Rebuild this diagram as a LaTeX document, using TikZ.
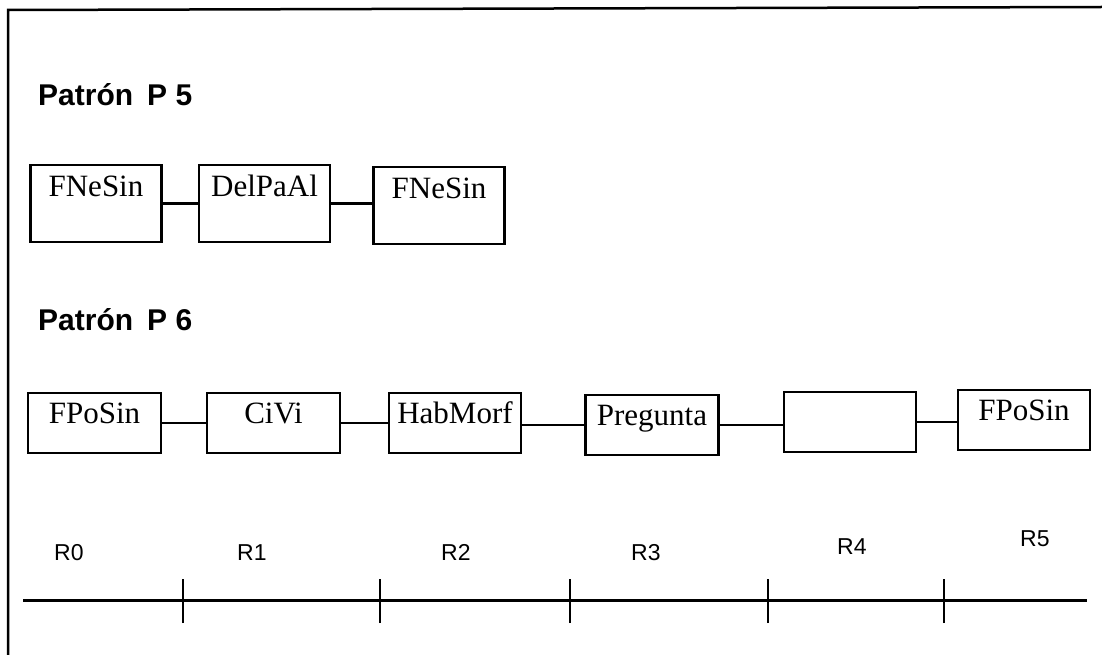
\documentclass[tikz,border=0pt]{standalone}
\usepackage{fontspec}
\setmainfont{Liberation Serif}
\setsansfont{Liberation Sans}
\begin{document}
\begin{tikzpicture}[x=1pt,y=-1pt,
  box/.style={draw, line width=2.1pt, inner sep=0pt, anchor=north,
    minimum width=131pt, font=\fontsize{31}{36}\selectfont},
  pfive/.style={text height=31pt, text depth=46pt},
  psix/.style={text height=30pt, text depth=30pt},
  link/.style={line width=2.2pt},
  ptitle/.style={anchor=base west, inner sep=0pt,
    font=\sffamily\bfseries\fontsize{30}{36}\selectfont},
  rlab/.style={anchor=base west, inner sep=0pt,
    font=\sffamily\fontsize{23}{28}\selectfont},
  ticky/.style={line width=2.6pt},
  axis/.style={line width=3pt},
  frame/.style={line width=2.5pt}
]
\useasboundingbox (0,0) rectangle (1102,655);
% frame
\draw[frame] (8,655) -- (8,10) -- (1102,7);

% Pattern P5
\node[ptitle] (t5) at (38,106) {Patrón\hspace{14pt}P 5};
\node[box,pfive] (a1) at (96,164) {FNeSin};
\node[box,pfive] (a2) at (264.5,164) {DelPaAl};
\node[box,pfive] (a3) at (439,166) {FNeSin};
\draw[link] (a1.east) -- (a1.east -| a2.west);
\draw[link] (a2.east) -- (a2.east -| a3.west);

% Pattern P6
\node[ptitle] (t6) at (38,330) {Patrón\hspace{14pt}P 6};
\node[box,psix,minimum width=133pt] (b1) at (94.5,392) {FPoSin};
\node[box,psix,minimum width=133pt] (b2) at (273.5,392) {CiVi};
\node[box,psix,minimum width=132pt] (b3) at (455,392) {HabMorf};
\node[box,psix,minimum width=133pt] (b4) at (652,394) {Pregunta};
\node[box,psix,minimum width=132pt] (b5) at (850,391) {};
\node[box,psix,minimum width=132pt] (b6) at (1024,389) {FPoSin};
\draw[link] (b1.east) -- (b1.east -| b2.west);
\draw[link] (b2.east) -- (b2.east -| b3.west);
\draw[link] (b3.east |- b4.west) -- (b4.west);
\draw[link] (b4.east) -- (b4.east -| b5.west);
\draw[link] (b5.east) -- (b5.east -| b6.west);

% timeline
\coordinate (s) at (23,600);
\coordinate (e) at (1087,600);
\draw[axis] (s) -- (e);
\foreach \x [count=\i] in {183,380,570,768,944}{
  \coordinate (k\i) at (\x,600);
  \draw[ticky] ([yshift=-23pt]k\i) -- ([yshift=21pt]k\i);
}
\node[rlab] (r0) at (54,560) {R0};
\node[rlab] (r1) at (237,560) {R1};
\node[rlab] (r2) at (441,560) {R2};
\node[rlab] (r3) at (631,560) {R3};
\node[rlab] (r4) at (837,554) {R4};
\node[rlab] (r5) at (1020,546) {R5};
\end{tikzpicture}
\end{document}
